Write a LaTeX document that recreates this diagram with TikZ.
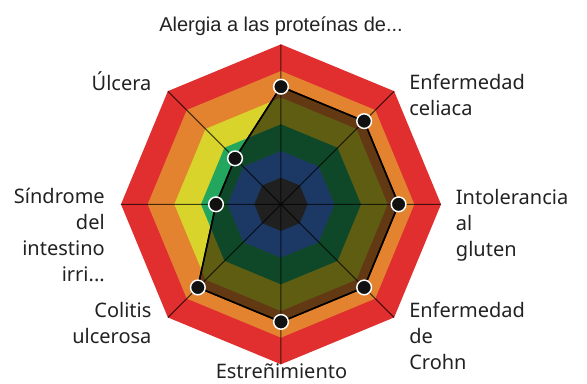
\documentclass[tikz,border=0pt]{standalone}
\usepackage{fontspec}
\setmainfont{Noto Sans}
\newfontfamily\titlefont{Liberation Sans}
\usetikzlibrary{shapes.geometric, positioning}
\definecolor{lvlred}{HTML}{E12F2F}
\definecolor{lvlorange}{HTML}{E3832F}
\definecolor{lvlyellow}{HTML}{D9D42B}
\definecolor{lvlgreen}{HTML}{23A65E}
\definecolor{lvlblue}{HTML}{4284E8}
\definecolor{lvlgray}{HTML}{4B4B4B}
\definecolor{dotfill}{HTML}{111111}
\definecolor{txt}{HTML}{222222}

\begin{document}
\begin{tikzpicture}[x=0.75pt,y=0.75pt,
  ring/.style={regular polygon, regular polygon sides=8, shape border rotate=22.5,
    inner sep=0pt, outer sep=0pt},
  axis/.style={draw=black, draw opacity=.7, line width=.75pt},
  data/.style={draw=black, line width=1.1pt, fill=black, fill opacity=.56},
  dot/.style={circle, fill=dotfill, draw=white, line width=1.1pt,
    minimum size=11pt, inner sep=0pt},
  lbl/.style={font=\fontsize{15}{19.5}\selectfont, text=txt, inner sep=0pt}]
  \useasboundingbox (-281,-178.7) rectangle (306,204.3);

  % levels
  \node[ring, fill=lvlred,    minimum size=240pt] (ring6) at (0,0) {};
  \node[ring, fill=lvlorange, minimum size=200pt] (ring5) at (0,0) {};
  \node[ring, fill=lvlyellow, minimum size=160pt] (ring4) at (0,0) {};
  \node[ring, fill=lvlgreen,  minimum size=120pt] (ring3) at (0,0) {};
  \node[ring, fill=lvlblue,   minimum size=80pt]  (ring2) at (0,0) {};
  \node[ring, fill=lvlgray,   minimum size=40pt]  (ring1) at (0,0) {};

  % values
  \coordinate (c)  at (0,0);
  \coordinate (vA) at (90:117.6);
  \coordinate (vB) at (45:117.6);
  \coordinate (vC) at (0:117.6);
  \coordinate (vD) at (-45:117.6);
  \coordinate (vE) at (-90:117.6);
  \coordinate (vF) at (-135:117.6);
  \coordinate (vG) at (180:65);
  \coordinate (vH) at (135:65);

  % axis ends
  \coordinate (oA) at (90:160);
  \coordinate (oB) at (45:160);
  \coordinate (oC) at (0:160);
  \coordinate (oD) at (-45:160);
  \coordinate (oE) at (-90:160);
  \coordinate (oF) at (-135:160);
  \coordinate (oG) at (180:160);
  \coordinate (oH) at (135:160);

  \path[data] (vA) -- (vB) -- (vC) -- (vD) -- (vE) -- (vF) -- (vG) -- (vH) -- cycle;
  \draw[axis] (c) -- (oA)  (c) -- (oB)  (c) -- (oC)  (c) -- (oD)
              (c) -- (oE)  (c) -- (oF)  (c) -- (oG)  (c) -- (oH);
  \draw[line width=1.1pt] (vA) -- (vB) -- (vC) -- (vD) -- (vE) -- (vF) -- (vG) -- (vH) -- cycle;

  \node[dot] (pA) at (vA) {};
  \node[dot] (pB) at (vB) {};
  \node[dot] (pC) at (vC) {};
  \node[dot] (pD) at (vD) {};
  \node[dot] (pE) at (vE) {};
  \node[dot] (pF) at (vF) {};
  \node[dot] (pG) at (vG) {};
  \node[dot] (pH) at (vH) {};

  % labels (base = last line)
  \node[lbl, font=\titlefont\fontsize{15}{18}\selectfont, anchor=base] (tA) at (0,172.6) {Alergia a las proteínas de...};
  \node[lbl, anchor=base west, align=left]  (tB) at (128,88.8) {Enfermedad\\celiaca};
  \node[lbl, anchor=base west, align=left]  (tC) at (174.7,-51.7) {Intolerancia\\al\\gluten};
  \node[lbl, anchor=base west, align=left]  (tD) at (128,-165) {Enfermedad\\de\\Crohn};
  \node[lbl, anchor=base]                   (tE) at (0.5,-174.2) {Estreñimiento};
  \node[lbl, anchor=base east, align=right] (tF) at (-129.3,-139) {Colitis\\ulcerosa};
  \node[lbl, anchor=base east, align=right] (tG) at (-176,-77.4) {Síndrome\\del\\intestino\\irri...};
  \node[lbl, anchor=base east]              (tH) at (-129.3,113.8) {Úlcera};
\end{tikzpicture}
\end{document}
